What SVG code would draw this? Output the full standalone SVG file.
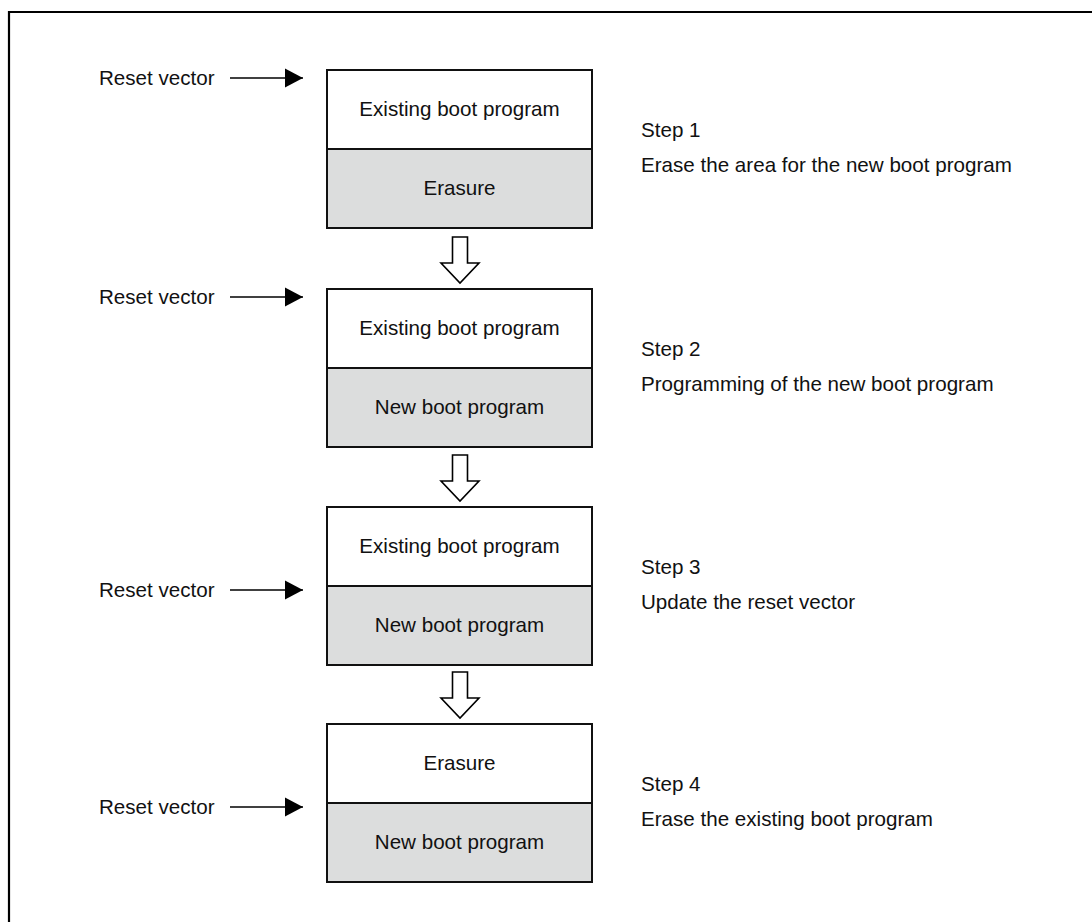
<svg xmlns="http://www.w3.org/2000/svg" width="1092" height="922" viewBox="0 0 1092 922">
  <style>
    text { font-family: "Liberation Sans", Arial, sans-serif; font-size: 20.6px; fill: #111; }
    .lbl { text-anchor: middle; }
    .blank { fill: #ffffff; stroke: #111; stroke-width: 2; }
    .used { fill: #dcdddd; stroke: #111; stroke-width: 2; }
    .vec { stroke: #000; stroke-width: 1.5; fill: none; }
    .flow { fill: #ffffff; stroke: #000; stroke-width: 1.6; stroke-linejoin: miter; }
  </style>
  <defs>
    <marker id="head" markerUnits="userSpaceOnUse" markerWidth="18" markerHeight="20" refX="18" refY="10" orient="auto">
      <path d="M0,0.5 L18,10 L0,19.5 Z" fill="#000"/>
    </marker>
    <path id="down" d="M-7.5,0 H7.5 V26 H19 L0,46 L-19,26 H-7.5 Z"/>
  </defs>

  <!-- page frame -->
  <path d="M9,922 V12 H1092" fill="none" stroke="#000" stroke-width="2.2"/>

  <!-- step 1 -->
  <g id="step1">
    <rect class="blank" x="327" y="70" width="265" height="79"/>
    <rect class="used" x="327" y="149" width="265" height="79"/>
    <text class="lbl" x="459.5" y="116">Existing boot program</text>
    <text class="lbl" x="459.5" y="195">Erasure</text>
    <text x="641" y="137">Step 1</text>
    <text x="641" y="171.5">Erase the area for the new boot program</text>
  </g>

  <!-- step 2 -->
  <g id="step2">
    <rect class="blank" x="327" y="289" width="265" height="79"/>
    <rect class="used" x="327" y="368" width="265" height="79"/>
    <text class="lbl" x="459.5" y="335">Existing boot program</text>
    <text class="lbl" x="459.5" y="414">New boot program</text>
    <text x="641" y="356">Step 2</text>
    <text x="641" y="390.5">Programming of the new boot program</text>
  </g>

  <!-- step 3 -->
  <g id="step3">
    <rect class="blank" x="327" y="507" width="265" height="79"/>
    <rect class="used" x="327" y="586" width="265" height="79"/>
    <text class="lbl" x="459.5" y="553">Existing boot program</text>
    <text class="lbl" x="459.5" y="632">New boot program</text>
    <text x="641" y="574">Step 3</text>
    <text x="641" y="608.5">Update the reset vector</text>
  </g>

  <!-- step 4 -->
  <g id="step4">
    <rect class="blank" x="327" y="724" width="265" height="79"/>
    <rect class="used" x="327" y="803" width="265" height="79"/>
    <text class="lbl" x="459.5" y="770">Erasure</text>
    <text class="lbl" x="459.5" y="849">New boot program</text>
    <text x="641" y="791">Step 4</text>
    <text x="641" y="825.5">Erase the existing boot program</text>
  </g>

  <!-- reset vector labels -->
  <g id="reset-labels">
    <text x="99" y="85">Reset vector</text>
    <text x="99" y="304">Reset vector</text>
    <text x="99" y="597">Reset vector</text>
    <text x="99" y="814">Reset vector</text>
  </g>

  <!-- connectors -->
  <g id="connectors">
    <line class="vec" x1="230" y1="78" x2="303" y2="78" marker-end="url(#head)"/>
    <line class="vec" x1="230" y1="297" x2="303" y2="297" marker-end="url(#head)"/>
    <line class="vec" x1="230" y1="590" x2="303" y2="590" marker-end="url(#head)"/>
    <line class="vec" x1="230" y1="807" x2="303" y2="807" marker-end="url(#head)"/>
    <use href="#down" class="flow" x="460" y="237"/>
    <use href="#down" class="flow" x="460" y="455"/>
    <use href="#down" class="flow" x="460" y="672"/>
  </g>
</svg>
